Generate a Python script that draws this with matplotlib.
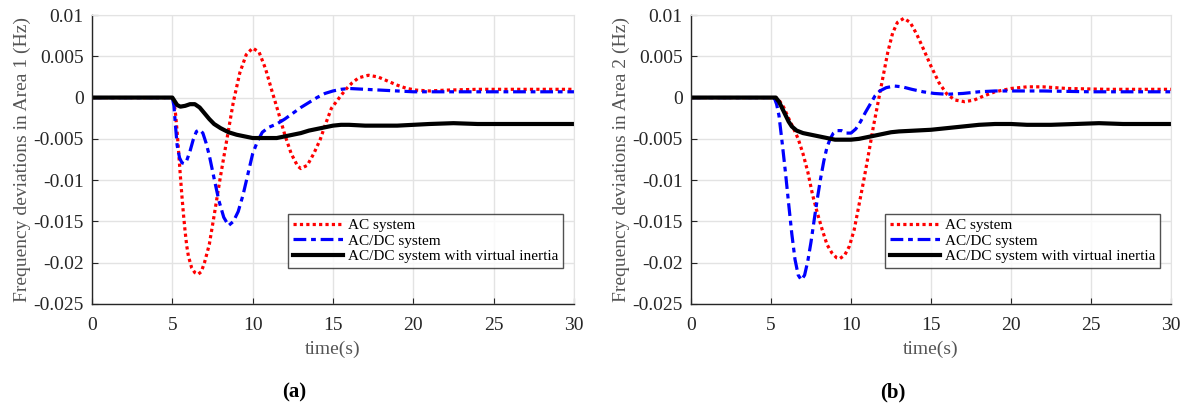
import matplotlib
matplotlib.use("Agg")
import matplotlib.pyplot as plt

plt.rcParams['font.family'] = ['Liberation Serif', 'DejaVu Serif']

# ---- Area 1 (a) ----
t_ac_1 = [0, 5.0, 5.1, 5.2, 5.3, 5.4, 5.5, 5.6, 5.7, 5.8, 5.9, 6.0, 6.2, 6.4, 6.6, 6.8,
          7.0, 7.3, 7.6, 8.0, 8.4, 8.8, 9.2, 9.6, 10.0, 10.4, 10.8, 11.2, 11.6, 12.0,
          12.4, 12.8, 13.0, 13.4, 13.8, 14.2, 14.5, 14.9, 15.4, 15.8, 16.2, 16.6, 17.2,
          17.8, 18.4, 19.0, 19.6, 20.2, 21, 22, 24, 27, 30]
f_ac_1 = [0, 0, -0.0005, -0.002, -0.0042, -0.0068, -0.0095, -0.0120, -0.0143, -0.0163,
          -0.0180, -0.0192, -0.0206, -0.0212, -0.0214, -0.0211, -0.0200, -0.0178, -0.0143,
          -0.0095, -0.0050, -0.0005, 0.0030, 0.0052, 0.0060, 0.0055, 0.0035, 0.0008,
          -0.0018, -0.0045, -0.0068, -0.0083, -0.0086, -0.0082, -0.0068, -0.0051, -0.0034,
          -0.0013, 0.0000, 0.0010, 0.0018, 0.0024, 0.0027, 0.0025, 0.0020, 0.0015, 0.0011,
          0.0009, 0.0008, 0.0009, 0.0010, 0.0010, 0.0010]

t_dc_1 = [0, 5.0, 5.1, 5.2, 5.3, 5.45, 5.6, 5.75, 5.9, 6.1, 6.3, 6.5, 6.7, 6.9, 7.1, 7.3,
          7.6, 7.9, 8.2, 8.5, 8.8, 9.1, 9.4, 9.7, 10.0, 10.3, 10.6, 11.0, 11.5, 12.0, 12.5,
          13.0, 13.5, 14.0, 14.5, 15.0, 15.5, 16.0, 17, 18, 19, 20, 22, 25, 30]
f_dc_1 = [0, 0, -0.001, -0.0035, -0.0058, -0.0073, -0.0079, -0.0080, -0.0076, -0.0065,
          -0.0051, -0.0041, -0.0039, -0.0043, -0.0055, -0.0070, -0.0098, -0.0125, -0.0145,
          -0.0155, -0.0150, -0.0138, -0.0118, -0.0093, -0.0068, -0.0053, -0.0042, -0.0036,
          -0.0032, -0.0026, -0.0019, -0.0012, -0.0006, 0.0000, 0.0005, 0.0008, 0.0010,
          0.0011, 0.0010, 0.0009, 0.0008, 0.0007, 0.0007, 0.0007, 0.0007]

t_vi_1 = [0, 5.0, 5.1, 5.3, 5.5, 5.8, 6.1, 6.4, 6.7, 7.0, 7.3, 7.6, 8.0, 8.5, 9.0, 9.5,
          10.0, 10.5, 11, 11.5, 12, 12.5, 13, 13.5, 14, 14.5, 15, 15.5, 16, 17, 18, 19,
          20, 21, 22.5, 24, 26, 28, 30]
f_vi_1 = [0, 0, -0.0003, -0.0009, -0.0011, -0.0010, -0.0008, -0.0008, -0.0012, -0.0019,
          -0.0026, -0.0032, -0.0037, -0.0042, -0.0045, -0.0047, -0.0049, -0.0049, -0.0049,
          -0.0049, -0.0047, -0.0045, -0.0043, -0.0040, -0.0038, -0.0036, -0.0034, -0.0033,
          -0.0033, -0.0034, -0.0034, -0.0034, -0.0033, -0.0032, -0.0031, -0.0032, -0.0032,
          -0.0032, -0.0032]

# ---- Area 2 (b) ----
t_ac_2 = [0, 5.3, 5.5, 5.8, 6.1, 6.4, 6.7, 7.0, 7.3, 7.6, 7.9, 8.2, 8.5, 8.8, 9.1, 9.3,
          9.6, 9.9, 10.2, 10.5, 10.8, 11.1, 11.4, 11.7, 12.0, 12.3, 12.6, 12.9, 13.3, 13.7,
          14.1, 14.5, 15.0, 15.5, 16.0, 16.5, 17.1, 17.7, 18.3, 19.0, 20.0, 21.0, 22.0,
          23.5, 26, 30]
f_ac_2 = [0, 0, -0.0003, -0.0012, -0.0025, -0.0037, -0.0050, -0.0068, -0.0090, -0.0118,
          -0.0140, -0.0160, -0.0178, -0.0188, -0.0194, -0.0195, -0.0191, -0.0180, -0.0160,
          -0.0130, -0.0100, -0.0068, -0.0035, -0.0005, 0.0025, 0.0055, 0.0078, 0.0091,
          0.0096, 0.0091, 0.0077, 0.0060, 0.0038, 0.0018, 0.0004, -0.0003, -0.0005, -0.0003,
          0.0002, 0.0007, 0.0011, 0.0013, 0.0013, 0.0011, 0.0010, 0.0010]

t_dc_2 = [0, 5.2, 5.35, 5.5, 5.7, 5.9, 6.1, 6.3, 6.5, 6.7, 6.9, 7.1, 7.3, 7.5, 7.7, 7.9,
          8.1, 8.3, 8.5, 8.7, 8.9, 9.1, 9.4, 9.7, 10.0, 10.3, 10.6, 10.9, 11.2, 11.5, 11.8,
          12.2, 12.7, 13.2, 13.8, 14.5, 15.2, 16, 17, 18, 19, 20, 22, 25, 30]
f_dc_2 = [0, 0, -0.0008, -0.0022, -0.0055, -0.0090, -0.0128, -0.0165, -0.0196, -0.0215,
          -0.0221, -0.0215, -0.0198, -0.0175, -0.0148, -0.0122, -0.0098, -0.0077, -0.0060,
          -0.0050, -0.0043, -0.0040, -0.0040, -0.0043, -0.0043, -0.0038, -0.0029, -0.0018,
          -0.0008, 0.0002, 0.0008, 0.0012, 0.0014, 0.0013, 0.0010, 0.0007, 0.0005, 0.0004,
          0.0005, 0.0007, 0.0008, 0.0008, 0.0008, 0.0007, 0.0007]

t_vi_2 = [0, 5.3, 5.5, 5.7, 5.9, 6.1, 6.3, 6.6, 7.0, 7.5, 8.0, 8.5, 9.0, 9.5, 10.0, 10.5,
          11.0, 11.5, 12.0, 12.5, 13.0, 14.0, 15.0, 16, 17, 18, 19, 20, 21, 22.5, 24, 25.5,
          27, 30]
f_vi_2 = [0, 0, -0.0005, -0.0013, -0.0021, -0.0029, -0.0035, -0.0040, -0.0043, -0.0045,
          -0.0047, -0.0049, -0.0051, -0.0051, -0.0051, -0.0050, -0.0048, -0.0046, -0.0044,
          -0.0042, -0.0041, -0.0040, -0.0039, -0.0037, -0.0035, -0.0033, -0.0032, -0.0032,
          -0.0033, -0.0033, -0.0032, -0.0031, -0.0032, -0.0032]

labels = ['AC system', 'AC/DC system', 'AC/DC system with virtual inertia']
y_ticks = [0.01, 0.005, 0, -0.005, -0.01, -0.015, -0.02, -0.025]
y_tick_labels = ['0.01', '0.005', '0', '-0.005', '-0.01', '-0.015', '-0.02', '-0.025']
x_ticks = [0, 5, 10, 15, 20, 25, 30]

fig = plt.figure(figsize=(11.91, 4.08), dpi=100)
ax1 = fig.add_axes([92 / 1191, 1 - 304 / 408, 482 / 1191, 289 / 408])
ax2 = fig.add_axes([691 / 1191, 1 - 304 / 408, 480 / 1191, 289 / 408])

panels = [
    (ax1, t_ac_1, f_ac_1, t_dc_1, f_dc_1, t_vi_1, f_vi_1, 'Frequency deviations in Area 1 (Hz)', '(a)'),
    (ax2, t_ac_2, f_ac_2, t_dc_2, f_dc_2, t_vi_2, f_vi_2, 'Frequency deviations in Area 2 (Hz)', '(b)'),
]

for ax, ta, fa, td, fd, tv, fv, ylab, cap in panels:
    ax.plot(ta, fa, color='#ff0000', linestyle=(0, (1, 1)), linewidth=2.3, label=labels[0])
    ax.plot(td, fd, color='#0000ff', linestyle=(0, (4, 1.5, 1.5, 1.5)), linewidth=2.3, label=labels[1])
    ax.plot(tv, fv, color='black', linestyle='-', linewidth=3.0, label=labels[2])
    ax.set_xlim(0, 30)
    ax.set_ylim(-0.025, 0.01)
    ax.set_xticks(x_ticks)
    ax.set_yticks(y_ticks)
    ax.set_yticklabels(y_tick_labels)
    ax.grid(True, color='#e3e3e3', linewidth=1.0)
    ax.set_axisbelow(True)
    ax.tick_params(direction='in', length=4, labelsize=14, colors='#262626', width=0.8)
    ax.tick_params(axis='x', pad=9)
    ax.tick_params(axis='y', pad=6)
    for s in ['top', 'right']:
        ax.spines[s].set_color('#e3e3e3')
    for s in ['left', 'bottom']:
        ax.spines[s].set_color('#262626')
        ax.spines[s].set_linewidth(1.0)
    ax.set_xlabel('time(s)', fontsize=14, color='#555555', labelpad=5)
    ax.set_ylabel(ylab, fontsize=14, color='#555555', labelpad=2)
    leg = ax.legend(loc='lower right', bbox_to_anchor=(0.977, 0.125), fontsize=11,
                    handlelength=3.3, frameon=True, fancybox=False, borderpad=0.3,
                    labelspacing=0.12, handletextpad=0.3, borderaxespad=0)
    leg.get_frame().set_edgecolor('#262626')
    leg.get_frame().set_linewidth(1.0)
    bb = ax.get_position()
    fig.text(bb.x0 + bb.width * 0.42, 1 - 392 / 408, cap, ha='center', va='center',
             fontsize=15, fontweight='bold')

fig.savefig('out.png', dpi=100)
